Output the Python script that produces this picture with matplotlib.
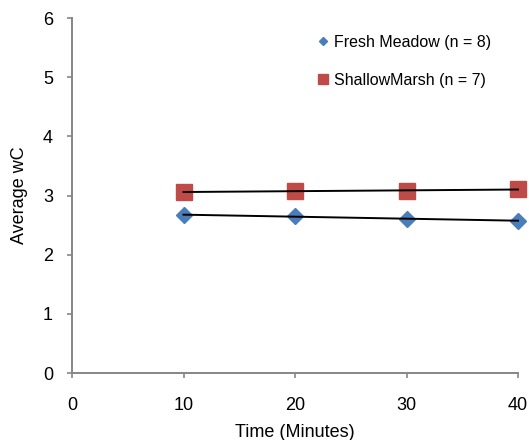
import numpy as np
import matplotlib
matplotlib.use("Agg")
import matplotlib.pyplot as plt

plt.rcParams['font.family'] = ['Liberation Sans', 'DejaVu Sans']

time = [10, 20, 30, 40]
fresh_meadow = [2.67, 2.65, 2.61, 2.57]
shallow_marsh = [3.06, 3.08, 3.07, 3.11]
xticks = [0, 10, 20, 30, 40]
yticks = [0, 1, 2, 3, 4, 5, 6]

W, H = 529, 440
fig = plt.figure(figsize=(W / 100, H / 100), dpi=100)
ax = fig.add_axes([72 / W, (H - 373) / H, (518 - 72) / W, (373 - 18) / H])

ax.plot(time, fresh_meadow, linestyle='none', marker='D', markersize=8,
        color='#4A7EBB', label='Fresh Meadow (n = 8)', zorder=2, clip_on=False)
ax.plot(time, shallow_marsh, linestyle='none', marker='s', markersize=11.5,
        color='#BE4B48', label='ShallowMarsh (n = 7)', zorder=2, clip_on=False)

for ys in (fresh_meadow, shallow_marsh):
    p = np.polyfit(time, ys, 1)
    xs = np.array([time[0], time[-1]])
    ax.plot(xs, np.polyval(p, xs), color='black', lw=1.4, zorder=3, clip_on=False)

ax.set_xlim(0, 40)
ax.set_ylim(0, 6)
ax.set_xticks(xticks)
ax.set_yticks(yticks)
ax.tick_params(labelsize=13, direction='out', length=3.6, width=1.2, color='#868686')
ax.tick_params(axis='x', pad=14)
ax.tick_params(axis='y', pad=10)
for s in ('top', 'right'):
    ax.spines[s].set_visible(False)
for s in ('left', 'bottom'):
    ax.spines[s].set_color('#868686')
    ax.spines[s].set_linewidth(1.4)
ax.set_xlabel('Time (Minutes)', fontsize=13, labelpad=7)
ax.set_ylabel('Average wC', fontsize=13, labelpad=10.5)

leg = ax.legend(loc='upper left', bbox_to_anchor=(236 / 446, 1 - 7 / 355), frameon=False,
                fontsize=11.5, handlelength=0.7, handletextpad=0.3, labelspacing=1.45,
                borderaxespad=0.2)
hs = leg.legend_handles
hs[0].set_markersize(4.5)
hs[1].set_markersize(7)

fig.savefig('out.png', dpi=100)
